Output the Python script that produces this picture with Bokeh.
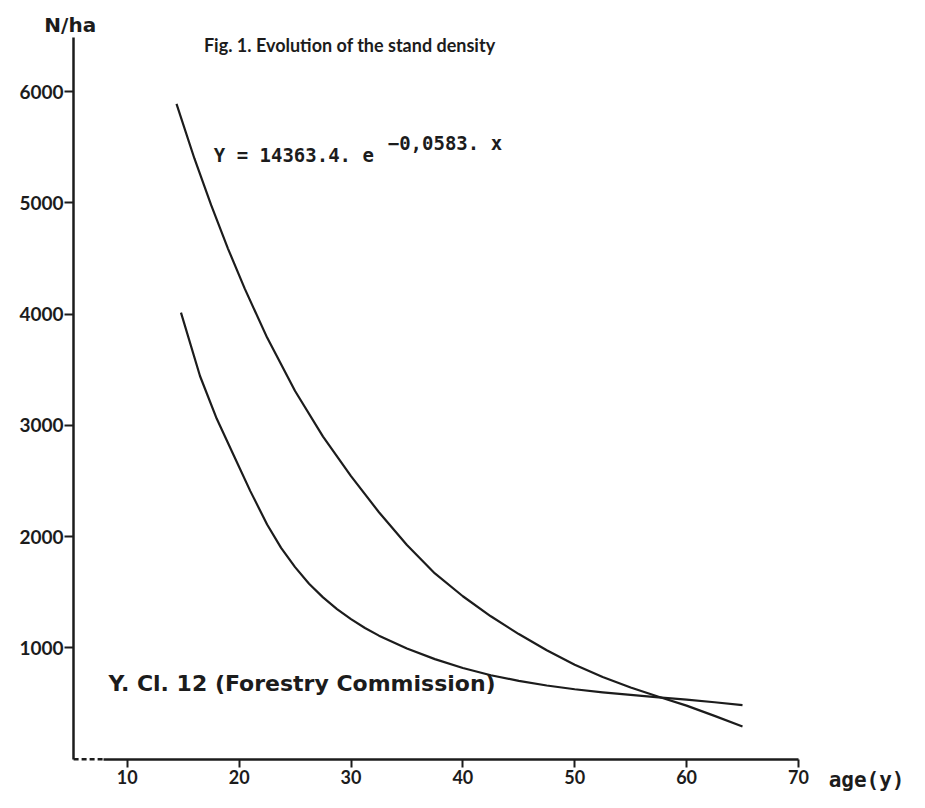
from bokeh.plotting import figure
from bokeh.models import Range1d, LinearAxis, FixedTicker
from bokeh.core.properties import value
from bokeh.embed import file_html
from bokeh.resources import INLINE

# ---- data ----
ages_exp = [14.4, 16, 17.5, 19, 20.5, 22.5, 25, 27.5, 30, 32.5, 35, 37.5, 40, 42.5,
            45, 47.5, 50, 52.5, 55, 57.5, 60, 62.5, 65]
density_exp = [5890, 5400, 4980, 4590, 4230, 3790, 3310, 2900, 2545, 2220, 1925, 1670,
               1465, 1285, 1125, 980, 850, 740, 645, 562, 482, 390, 295]

ages_fc = [14.8, 16.5, 18, 19.5, 21, 22.5, 23.75, 25, 26.25, 27.5, 28.75, 30, 31.25,
           32.5, 35, 37.5, 40, 42.5, 45, 47.5, 50, 52.5, 55, 57.5, 60, 62.5, 65]
density_fc = [4015, 3445, 3060, 2735, 2410, 2110, 1900, 1727, 1578, 1455, 1350, 1259,
              1180, 1111, 995, 900, 820, 755, 704, 663, 629, 601, 578, 556, 536, 512, 487]

x_ticks = [10, 20, 30, 40, 50, 60, 70]
y_ticks = [1000, 2000, 3000, 4000, 5000, 6000]

title_text = "Fig. 1. Evolution of the stand density"
eq_main = "Y = 14363.4. e"
eq_sup = "\u22120,0583. x"
fc_text = "Y. Cl. 12  (Forestry Commission)"
y_title = "N/ha"
x_title = "age(y)"

INK = "#1c1c1c"
LAB = "Lato"

p = figure(width=909, height=792,
           x_range=Range1d(-1.335, 79.93), y_range=Range1d(-299, 6820),
           output_backend="svg", toolbar_location=None,
           x_axis_location=None, y_axis_location=None,
           min_border=0, outline_line_color=None,
           background_fill_color="white", border_fill_color="white")
for g in p.grid:
    g.visible = False

axis_x0 = 5.2
dash_end = 7.9

xa = LinearAxis(fixed_location=0, bounds=(dash_end, 70),
                ticker=FixedTicker(ticks=x_ticks))
xa.axis_line_width = 2.5
xa.axis_line_color = INK
xa.major_tick_out = 8
xa.major_tick_in = 0
xa.major_tick_line_width = 2
xa.major_tick_line_color = INK
xa.minor_tick_line_color = None
xa.major_label_standoff = 3
xa.major_label_text_font = LAB
xa.major_label_text_font_style = "bold"
xa.major_label_text_font_size = "18px"
xa.major_label_text_color = INK
p.add_layout(xa, "below")

ya = LinearAxis(fixed_location=axis_x0, bounds=(0, 6485),
                ticker=FixedTicker(ticks=y_ticks))
ya.axis_line_width = 2.5
ya.axis_line_color = INK
ya.major_tick_out = 9
ya.major_tick_in = 0
ya.major_tick_line_width = 2
ya.major_tick_line_color = INK
ya.minor_tick_line_color = None
ya.major_label_standoff = 1
ya.major_label_text_font = LAB
ya.major_label_text_font_style = "bold"
ya.major_label_text_font_size = "19px"
ya.major_label_text_color = INK
p.add_layout(ya, "left")

p.segment(x0=[axis_x0], y0=[0], x1=[dash_end], y1=[0],
          line_width=2.5, line_color=INK, line_dash="5 3")

p.line(ages_exp, density_exp, line_width=2.2, line_color=INK, line_join="round")
p.line(ages_fc, density_fc, line_width=2.2, line_color=INK, line_join="round")

p.text(x=[4.9], y=[6599], text=[y_title], text_font=value("DejaVu Sans"),
       text_font_style="bold", text_font_size="20px", text_color=INK,
       text_align="center", text_baseline="middle")
p.text(x=[16.85], y=[6423], text=[title_text], text_font=value(LAB),
       text_font_style="bold", text_font_size="18px", text_color=INK,
       text_align="left", text_baseline="middle")
p.text(x=[17.73], y=[5427], text=[eq_main], text_font=value("DejaVu Sans Mono"),
       text_font_style="bold", text_font_size="19px", text_color=INK,
       text_align="left", text_baseline="middle")
p.text(x=[33.28], y=[5542], text=[eq_sup], text_font=value("DejaVu Sans Mono"),
       text_font_style="bold", text_font_size="19px", text_color=INK,
       text_align="left", text_baseline="middle")
p.text(x=[8.33], y=[678], text=[fc_text], text_font=value("DejaVu Sans"),
       text_font_style="bold", text_font_size="22px", text_color=INK,
       text_align="left", text_baseline="middle")
p.text(x=[72.7], y=[-185], text=[x_title], text_font=value("DejaVu Sans Mono"),
       text_font_style="bold", text_font_size="21px", text_color=INK,
       text_align="left", text_baseline="middle")

open("out.html", "w").write(file_html(p, INLINE))
